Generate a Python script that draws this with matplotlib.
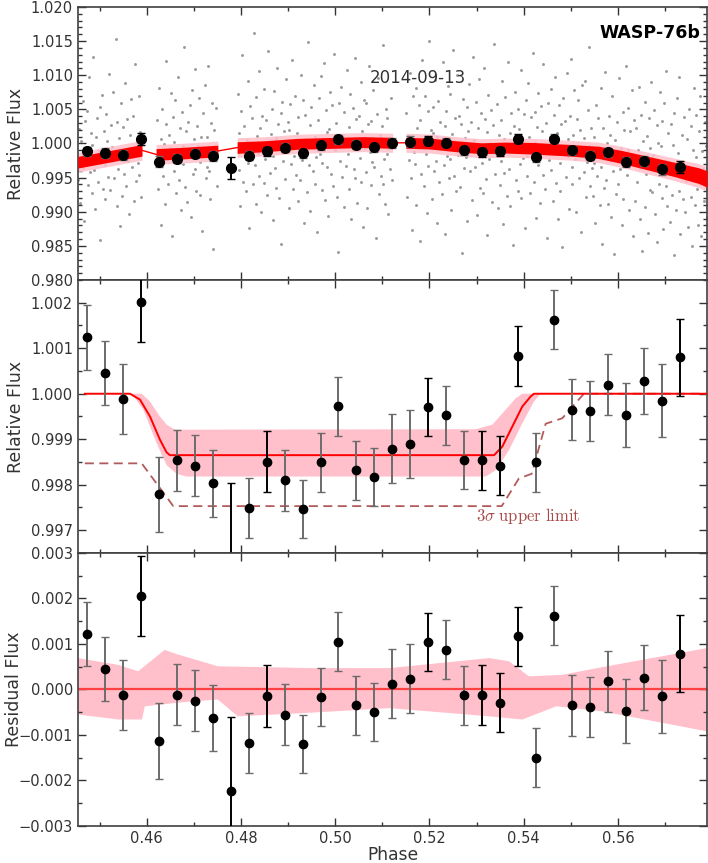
import numpy as np
import matplotlib
matplotlib.use("Agg")
import matplotlib.pyplot as plt
from matplotlib.ticker import MultipleLocator, FuncFormatter

#%% binned light curve
bin_phase = [0.44743, 0.45117, 0.45498, 0.45879, 0.46267, 0.46648, 0.47029, 0.47410,
             0.47784, 0.48165, 0.48546, 0.48927, 0.49308, 0.49689, 0.50070, 0.50444,
             0.50832, 0.51213, 0.51594, 0.51975, 0.52356, 0.52737, 0.53117, 0.53498,
             0.53886, 0.54267, 0.54648, 0.55029, 0.55410, 0.55790, 0.56171, 0.56552,
             0.56933, 0.57314]
bin_flux_raw = [0.99883, 0.99863, 0.99834, 1.00064, 0.99736, 0.99780, 0.99853, 0.99814,
                0.99643, 0.99819, 0.99883, 0.99936, 0.99858, 0.99971, 1.00064, 0.99980,
                0.99946, 1.00010, 1.00029, 1.00039, 1.00010, 0.99902, 0.99868, 0.99888,
                1.00068, 0.99800, 1.00068, 0.99902, 0.99819, 0.99868, 0.99731, 0.99746,
                0.99623, 0.99653]
bin_flux_det = [1.00124, 1.00046, 0.99988, 1.00202, 0.99779, 0.99854, 0.99842, 0.99803,
                0.99641, 0.99749, 0.99851, 0.99810, 0.99746, 0.99849, 0.99972, 0.99832,
                0.99817, 0.99879, 0.99890, 0.99971, 0.99953, 0.99854, 0.99854, 0.99842,
                1.00083, 0.99849, 1.00163, 0.99965, 0.99962, 1.00020, 0.99954, 1.00028,
                0.99985, 1.00080]
bin_resid = [0.00122, 0.00045, -0.00013, 0.00205, -0.00113, -0.00012, -0.00025, -0.00063,
             -0.00224, -0.00117, -0.00015, -0.00056, -0.00120, -0.00017, 0.00105, -0.00035,
             -0.00049, 0.00013, 0.00024, 0.00105, 0.00087, -0.00013, -0.00012, -0.00029,
             0.00117, -0.00150, 0.00162, -0.00035, -0.00038, 0.00018, -0.00047, 0.00026,
             -0.00015, 0.00079]
bin_err = [0.00071, 0.00071, 0.00077, 0.00088, 0.00083, 0.00067, 0.00067, 0.00073,
           0.00163, 0.00066, 0.00068, 0.00067, 0.00064, 0.00064, 0.00065, 0.00065,
           0.00064, 0.00076, 0.00075, 0.00064, 0.00065, 0.00064, 0.00065, 0.00065,
           0.00065, 0.00065, 0.00065, 0.00067, 0.00066, 0.00067, 0.00070, 0.00072,
           0.00080, 0.00085]

#%% unbinned points: phase in 1e-4, flux offset in ppt
raw_phase_e4 = [
    4455,4457,4458,4460,4462,4464,4465,4467,4469,4471,
    4473,4475,4476,4478,4480,4482,4483,4485,4487,4489,
    4491,4493,4494,4496,4498,4500,4501,4503,4505,4507,
    4509,4511,4512,4514,4516,4518,4519,4521,4523,4525,
    4527,4529,4530,4532,4534,4536,4537,4539,4541,4543,
    4545,4547,4548,4550,4552,4554,4555,4557,4559,4561,
    4563,4565,4566,4568,4570,4572,4573,4575,4577,4579,
    4581,4583,4584,4586,4588,
    4621,4623,4624,4626,4628,4630,4631,4633,4635,4637,
    4639,4641,4642,4644,4646,4648,4649,4651,4653,4655,
    4657,4659,4660,4662,4664,4666,4667,4669,4671,4673,
    4675,4677,4678,4680,4682,4684,4685,4687,4689,4691,
    4693,4695,4696,4698,4700,4702,4703,4705,4707,4709,
    4711,4713,4714,4716,4718,4720,4721,4723,4725,4727,
    4729,4731,4732,4734,4736,4738,4739,4741,4743,4745,
    4747,4749,
    4793,4795,4796,4798,4800,4802,4803,4805,4807,4809,
    4811,4813,4814,4816,4818,4820,4821,4823,4825,4827,
    4829,4831,4832,4834,4836,4838,4839,4841,4843,4845,
    4847,4849,4850,4852,4854,4856,4857,4859,4861,4863,
    4865,4867,4868,4870,4872,4874,4875,4877,4879,4881,
    4883,4885,4886,4888,4890,4892,4893,4895,4897,4899,
    4901,4903,4904,4906,4908,4910,4911,4913,4915,4917,
    4919,4921,4922,4924,4926,4928,4929,4931,4933,4935,
    4937,4939,4940,4942,4944,4946,4947,4949,4951,4953,
    4955,4957,4958,4960,4962,4964,4965,4967,4969,4971,
    4973,4975,4976,4978,4980,4982,4983,4985,4987,4989,
    4991,4993,4994,4996,4998,5000,5001,5003,5005,5007,
    5009,5011,5012,5014,5016,5018,5019,5021,5023,5025,
    5027,5029,5030,5032,5034,5036,5037,5039,5041,5043,
    5045,5047,5048,5050,5052,5054,5055,5057,5059,5061,
    5063,5065,5066,5068,5070,5072,5073,5075,5077,5079,
    5081,5083,5084,5086,5088,5090,5091,5093,5095,5097,
    5099,5101,5102,5104,5106,5108,5109,5111,5113,5115,
    5117,5119,5120,
    5151,5153,5154,5156,5158,5160,5161,5163,5165,5167,
    5169,5171,5172,5174,5176,5178,5179,5181,5183,5185,
    5187,5189,5190,5192,5194,5196,5197,5199,5201,5203,
    5205,5207,5208,5210,5212,5214,5215,5217,5219,5221,
    5223,5225,5226,5228,5230,5232,5233,5235,5237,5239,
    5241,5243,5244,5246,5248,5250,5251,5253,5255,5257,
    5259,5261,5262,5264,5266,5268,5269,5271,5273,5275,
    5277,5279,5280,5282,5284,5286,5287,5289,5291,5293,
    5295,5297,5298,5300,5302,5304,5305,5307,5309,5311,
    5313,5315,5316,5318,5320,5322,5323,5325,5327,5329,
    5331,5333,5334,5336,5338,5340,5341,5343,5345,5347,
    5349,5351,5352,5354,5356,5358,5359,5361,5363,5365,
    5367,5369,5370,5372,5374,5376,5377,5379,5381,5383,
    5385,5387,5388,5390,5392,5394,5395,5397,5399,5401,
    5403,5405,5406,5408,5410,5412,5413,5415,5417,5419,
    5421,5423,5424,5426,5428,5430,5431,5433,5435,5437,
    5439,5441,5442,5444,5446,5448,5449,5451,5453,5455,
    5457,5459,5460,5462,5464,5466,5467,5469,5471,5473,
    5475,5477,5478,5480,5482,5484,5485,5487,5489,5491,
    5493,5495,5496,5498,5500,5502,5503,5505,5507,5509,
    5511,5513,5514,5516,5518,5520,5521,5523,5525,5527,
    5529,5531,5532,5534,5536,5538,5539,5541,5543,5545,
    5547,5549,5550,5552,5554,5556,5557,5559,5561,5563,
    5565,5567,5568,5570,5572,5574,5575,5577,5579,5581,
    5583,5585,5586,5588,5590,5592,5593,5595,5597,5599,
    5601,5603,5604,5606,5608,5610,5611,5613,5615,5617,
    5619,5621,5622,5624,5626,5628,5629,5631,5633,5635,
    5637,5639,5640,5642,5644,5646,5647,5649,5651,5653,
    5655,5657,5658,5660,5662,5664,5665,5667,5669,5671,
    5673,5675,5676,5678,5680,5682,5683,5685,5687,5689,
    5691,5693,5694,5696,5698,5700,5701,5703,5705,5707,
    5709,5711,5712,5714,5716,5718,5719,5721,5723,5725,
    5727,5729,5730,5732,5734,5736,5737,5739,5741,5743,
    5745,5747,5748,5750,5752,5754,5755,5757,5759,5761,
    5763,5765,5766,5768,5770,5772,5773,5775,5777,5779,
    5781,5783,5784,5786,5788]
raw_flux_ppt = [
    -5.3, 2.1, -8.7, 0.4, -1.9, 6.2, -3.6, -11.4, 3.3, -0.8,
    4.7, -6.1, -2.4, 9.8, -4.2, 1.5, -7.3, -0.2, 12.6, -3.9,
    -9.6, 0.9, 3.8, -5.7, -1.1, -14.2, 5.4, -2.8, 7.1, -6.6,
    1.8, -3.2, -8.1, 4.3, 0.3, -4.9, 10.2, -1.6, -6.8, 2.7,
    -0.5, 7.6, -5.1, -2.1, 15.3, -9.2, 3.1, -3.7, 0.8, -12.1,
    5.9, -1.4, -7.7, 2.4, -4.4, 8.8, -0.9, -6.2, 3.6, -2.6,
    -10.3, 1.2, 6.5, -3.4, -0.6, 4.1, -8.4, 11.7, -5.5, 0.2,
    -2.9, 6.9, -4.6, 1.7, -7.9,
    3.4, -6.7, -1.8, 8.2, -3.3, -11.9, 0.6, 5.1, -4.8, -0.1,
    -8.9, 2.9, 12.1, -2.3, -5.9, 1.3, -0.7, 7.4, -13.6, 3.9,
    -4.1, 0.2, 6.3, -7.2, -2.6, 9.7, -1.2, -5.3, 2.2, -9.8,
    4.6, -3.0, -0.4, 14.1, -6.4, 1.9, -8.6, 3.2, -2.0, 5.7,
    -1.5, -10.7, 7.9, -4.5, 0.7, -3.8, 10.9, -6.9, 2.5, -0.3,
    6.6, -2.7, -7.5, 1.0, -12.8, 4.4, -1.0, 8.5, -5.0, -3.5,
    0.9, 11.3, -4.0, -8.2, 3.0, -0.8, 6.0, -15.4, 2.0, -2.2,
    5.2, -6.3,
    7.3, -3.9, 1.6, -9.1, 4.8, -0.6, 12.9, -5.6, 2.6, -1.7,
    -7.0, 0.5, 9.1, -2.9, -12.4, 5.5, -0.1, 3.7, -6.0, 16.2,
    -3.1, 6.8, -8.8, 1.1, -1.4, 10.6, -4.7, 2.3, -10.1, 4.0,
    0.0, -5.8, 8.0, -2.2, 3.5, -7.6, 13.5, -0.9, -4.3, 1.4,
    5.0, -11.2, -1.9, 7.7, -3.6, 0.8, -6.5, 11.0, 2.8, -8.0,
    -0.4, 4.5, -14.7, 6.1, -2.5, 1.9, -5.2, 9.4, -1.1, 3.1,
    -9.4, 2.0, 5.8, -3.0, 12.3, -6.7, 0.3, -1.8, 7.0, -4.6,
    1.5, -8.5, 3.9, -0.7, -5.4, 10.0, -2.4, 6.4, -11.7, 0.6,
    4.2, -1.3, -7.1, 14.8, -3.2, 2.7, -9.9, 5.3, -0.2, -4.0,
    8.6, -5.9, 1.0, -2.0, -13.0, 3.4, 6.7, -1.5, 9.9, -6.8,
    -2.8, 0.4, 11.8, -8.3, 4.9, -3.5, 1.7, -10.6, 2.1, 7.5,
    -4.4, 5.6, -0.5, -6.3, 13.1, -1.0, 3.0, -7.8, 0.9, -15.9,
    6.0, -2.6, 8.3, -4.9, 1.3, -9.3, 4.6, -0.3, -3.3, 10.8,
    -1.6, 2.4, -6.6, 7.2, -11.0, 0.1, 5.2, -3.8, 12.5, -5.0,
    3.6, -8.7, -0.8, 4.1, -2.1, 9.0, -5.7, 1.8, -12.3, 6.3,
    -0.6, 5.9, -4.2, -9.5, 2.9, 11.4, -1.2, -6.1, 3.3, -2.7,
    7.8, -3.4, 0.7, -13.8, 4.3, -0.9, 9.6, -7.4, 1.2, -4.8,
    2.5, -6.0, 14.4, -2.3, -8.9, 5.1, -1.5, 3.8, -10.4, 0.0,
    -3.7, 6.6, -5.3,
    4.4, -7.9, 1.1, -2.4, 10.3, -5.1, 0.6, -12.7, 6.9, -1.3,
    -3.0, 8.1, -9.0, 2.2, -0.2, 5.6, -14.3, 3.5, -4.5, 12.2,
    0.3, -6.2, 7.0, -1.6, -10.2, 4.7, -3.3, 15.0, -0.7, 2.0,
    -8.1, 1.6, 5.3, -4.0, 9.3, -2.5, -11.6, 0.9, 6.2, -5.6,
    3.1, -0.1, -7.4, 11.9, -3.1, 2.6, -13.2, 4.8, -1.9, 8.4,
    -5.0, 7.3, -2.2, -9.7, 1.4, 13.7, -0.6, -4.7, 3.7, -7.0,
    10.1, -1.7, 4.0, -6.4, -0.3, 2.8, -16.0, 6.5, -3.6, 0.8,
    -2.0, 5.4, -11.3, 1.9, 8.7, -4.1, -0.8, 3.2, -8.3, 12.7,
    0.5, -3.4, 6.1, -10.5, 2.3, -1.1, 9.5, -6.5, 4.5, -2.9,
    -7.3, 11.1, -0.4, 3.6, -5.2, -13.4, 1.7, 7.1, -2.3, 0.0,
    4.9, -8.6, 2.7, -1.4, 14.6, -4.4, -0.9, 5.8, -9.4, 1.3,
    -6.1, 3.4, -2.6, 9.2, -11.8, 0.7, -4.3, 6.8, -0.5, -7.7,
    12.0, -3.7, 1.5, -9.2, 4.4, -1.2, -14.9, 2.6, 7.6, -5.4,
    -0.9, 5.0, -6.9, 2.1, -3.0, 10.7, -8.0, 0.4, -2.1, 4.3,
    -12.4, 6.3, -1.9, -4.8, 8.9, 1.0, -7.2, 3.9, -0.3, 13.3,
    -5.7, 0.2, 4.6, -10.9, 2.4, -3.2, 7.4, -1.6, -8.7, 5.5,
    1.8, -4.6, 11.6, -0.7, -6.6, 3.0, -13.9, 6.0, -2.4, 0.9,
    -3.9, 8.0, -1.0, -8.5, 4.2, -0.1, 9.8, -5.8, 1.6, -11.1,
    5.7, -2.8, -7.0, 2.9, -15.1, 6.7, -0.6, 3.3, -4.9, 10.4,
    -1.8, 0.6, -9.6, 4.1, 12.4, -3.5, -6.0, 1.3, 7.9, -2.2,
    -10.0, 3.6, -0.8, 6.4, -5.1, 2.0, -12.9, 8.6, -1.4, -4.2,
    0.8, 9.1, -7.9, -2.7, 4.9, -0.4, 14.1, -6.2, 2.3, -3.6,
    -7.7, 1.0, -2.9, -11.6, 5.6, -4.8, 3.7, -0.5, -9.0, 8.2,
    -3.4, -14.8, 2.2, -6.5, 10.5, -1.8, -5.3, 0.1, -8.8, 4.0,
    1.3, -10.7, -2.5, 6.9, -4.1, -16.2, 0.5, -7.4, 3.1, -1.2,
    -6.0, 9.6, -3.8, -0.7, -12.0, 4.6, -8.2, 2.0, -2.0, 11.4,
    -4.6, -0.9, 5.2, -9.8, 1.8, -3.1, 7.8, -13.5, -1.6, 3.5,
    -8.5, 2.3, -5.6, -1.0, 8.3, -11.0, -3.6, 4.2, -15.7, 0.4,
    -2.3, 6.1, -9.3, -4.4, 1.1, -13.1, 3.8, -6.8, -0.6, 9.0,
    -7.1, -1.7, 4.9, -10.4, -3.0, 2.7, -14.4, 0.0, -5.9, 7.5,
    -0.4, -8.0, 3.3, -12.6, 5.9, -2.6, -6.3, 10.6, -9.1, 1.5,
    -4.0, -11.5, 2.8, -7.5, -0.2, -16.4, 4.5, -3.2, -9.7, 6.6,
    -1.4, -6.9, 9.7, -13.3, -2.8, 1.2, -8.1, -4.6, 3.9, -10.1,
    -5.5, 0.7, -12.2, 5.0, -3.9, -7.8, 2.5, -15.0, -0.9, 8.1,
    -9.0, -2.0, 4.2, -6.7, -11.9, 1.9, -4.3, 7.0, -13.6, -1.1,
    -3.8, -8.4, 3.2, -0.3, -10.8]

#%% full model in the top panel (systematics x transit)
top_model_phase = [0.4454, 0.4512, 0.4571, 0.4590, 0.4620, 0.4680, 0.4751, 0.4792,
                   0.4850, 0.4920, 0.5000, 0.5060, 0.5122, 0.5150, 0.5200, 0.5256,
                   0.5310, 0.5360, 0.5420, 0.5500, 0.5559, 0.5610, 0.5665, 0.5720,
                   0.5771, 0.5789]
top_model_flux = [0.99725, 0.99800, 0.99875, 0.99900, 0.99840, 0.99860, 0.99890, 0.99940,
                  0.99960, 0.99995, 1.00010, 1.00020, 1.00010, 1.00010, 1.00000, 0.99960,
                  0.99930, 0.99940, 0.99930, 0.99900, 0.99870, 0.99800, 0.99710, 0.99620,
                  0.99530, 0.99480]
top_model_half = [0.00085, 0.00085, 0.00085, 0.00085, 0.00085, 0.00085, 0.00085, 0.00085,
                  0.00080, 0.00080, 0.00080, 0.00080, 0.00080, 0.00080, 0.00080, 0.00080,
                  0.00080, 0.00080, 0.00085, 0.00085, 0.00090, 0.00095, 0.00100, 0.00105,
                  0.00115, 0.00120]
data_segments = [(0.4454, 0.4590), (0.4620, 0.4751), (0.4792, 0.5122), (0.5150, 0.5789)]

#%% transit model (middle panel)
transit_phase = [0.44688, 0.45647, 0.45858, 0.46070, 0.46281, 0.46423, 0.46493,
                 0.53372, 0.53547, 0.53759, 0.53971, 0.54148, 0.54218, 0.57890]
transit_flux = [1.00000, 1.00000, 0.99987, 0.99950, 0.99899, 0.99871, 0.99865,
                0.99865, 0.99884, 0.99928, 0.99972, 0.99994, 1.00000, 1.00000]
band_up_phase = [0.44688, 0.45894, 0.46070, 0.46281, 0.46423, 0.46599, 0.52984,
                 0.53334, 0.53619, 0.53831, 0.53971, 0.57890]
band_up_flux = [1.00000, 1.00000, 0.99983, 0.99950, 0.99932, 0.99921, 0.99922,
                0.99932, 0.99965, 0.99990, 1.00000, 1.00000]
band_lo_phase = [0.44688, 0.45683, 0.45929, 0.46212, 0.46423, 0.46635, 0.46847,
                 0.53196, 0.53408, 0.53689, 0.53971, 0.54218, 0.54360, 0.57890]
band_lo_flux = [1.00000, 1.00000, 0.99965, 0.99891, 0.99843, 0.99824, 0.99818,
                0.99818, 0.99832, 0.99876, 0.99935, 0.99983, 1.00000, 1.00000]
limit_phase = [0.44688, 0.45894, 0.46564, 0.53534, 0.53900, 0.54169, 0.54466,
               0.54818, 0.55277, 0.57890]
limit_flux = [0.99847, 0.99847, 0.99753, 0.99753, 0.99814, 0.99824, 0.99934,
              0.99946, 1.00000, 1.00000]

#%% residual envelope (bottom panel)
res_up_phase = [0.4454, 0.4540, 0.4582, 0.4638, 0.4666, 0.4751, 0.4948, 0.5115,
                0.5327, 0.5369, 0.5411, 0.5481, 0.5566, 0.5789]
res_up = [0.00069, 0.00054, 0.00040, 0.00087, 0.00077, 0.00051, 0.00047, 0.00047,
          0.00069, 0.00062, 0.00029, 0.00032, 0.00049, 0.00091]
res_lo_phase = [0.4454, 0.4540, 0.4590, 0.4596, 0.4666, 0.4751, 0.4793, 0.4948,
                0.5115, 0.5327, 0.5397, 0.5469, 0.5566, 0.5789]
res_lo = [-0.00055, -0.00066, -0.00066, -0.00037, -0.00029, -0.00022, -0.00059, -0.00051,
          -0.00041, -0.00059, -0.00066, -0.00037, -0.00048, -0.00092]

dark_bins = [3, 8, 10, 19, 22, 23, 24, 33]   # errorbars drawn darker
PINK = '#ffc0cb'
TXT = '0.2'

#%% figure
fig = plt.figure(figsize=(7.08, 8.63), dpi=100)
gs = fig.add_gridspec(3, 1, left=0.110, right=0.9986, top=0.9919, bottom=0.0429, hspace=0)
ax1 = fig.add_subplot(gs[0])
ax2 = fig.add_subplot(gs[1], sharex=ax1)
ax3 = fig.add_subplot(gs[2], sharex=ax1)

fmt3 = FuncFormatter(lambda v, p: ("%.3f" % v).replace('-', '\u2212'))


def style(ax, ymin, ymax, ymaj, ymin_step):
    ax.set_xlim(0.4454, 0.5789)
    ax.set_ylim(ymin, ymax)
    ax.xaxis.set_major_locator(MultipleLocator(0.02))
    ax.xaxis.set_minor_locator(MultipleLocator(0.01))
    ax.yaxis.set_major_locator(MultipleLocator(ymaj))
    ax.yaxis.set_minor_locator(MultipleLocator(ymin_step))
    ax.yaxis.set_major_formatter(fmt3)
    ax.tick_params(which='both', direction='in', top=True, right=True,
                   colors=TXT, labelsize=10.5, width=1.0)
    ax.tick_params(which='major', length=5.5)
    ax.tick_params(which='minor', length=3)
    for s in ax.spines.values():
        s.set_color('0.25')
        s.set_linewidth(1.2)


def draw_bins(ax, y, ms):
    for i in range(len(bin_phase)):
        ec = 'k' if i in dark_bins else '0.42'
        ax.errorbar(bin_phase[i], y[i], yerr=bin_err[i], fmt='o', color='k',
                    ms=ms, ecolor=ec, elinewidth=1.4, capsize=2.6, capthick=1.0,
                    zorder=6)


# top panel
n = min(len(raw_phase_e4), len(raw_flux_ppt))
rp = np.array(raw_phase_e4[:n]) / 1e4
rf = 1.0 + np.array(raw_flux_ppt[:n]) / 1e3
ax1.plot(rp, rf, 'o', ms=2.1, mew=0, color='0.6', zorder=1)

tp = np.array(top_model_phase)
tf = np.array(top_model_flux)
th = np.array(top_model_half)
for lo, hi in data_segments:
    m = (tp >= lo - 1e-9) & (tp <= hi + 1e-9)
    ax1.fill_between(tp[m], tf[m] - th[m] - 0.0006, tf[m] + th[m] + 0.0006,
                     color=PINK, alpha=0.85, lw=0, zorder=2)
    ax1.fill_between(tp[m], tf[m] - th[m], tf[m] + th[m], color='red', lw=0, zorder=3)
ax1.plot(tp, tf, color='red', lw=1.0, zorder=3)
draw_bins(ax1, bin_flux_raw, 7)
ax1.text(0.989, 0.904, 'WASP-76b', transform=ax1.transAxes, ha='right', va='center',
         fontsize=12.5, fontweight='bold', color='k')
ax1.text(0.5405, 0.739, '2014-09-13', transform=ax1.transAxes, ha='center', va='center',
         fontsize=12, color=TXT)
ax1.set_ylabel('Relative Flux', fontsize=12.5, color=TXT)
ax1.yaxis.set_label_coords(-0.084, 0.5)
style(ax1, 0.980, 1.020, 0.005, 0.001)
ax1.tick_params(labelbottom=False)

# middle panel
ax2.fill(np.concatenate([band_up_phase, band_lo_phase[::-1]]),
         np.concatenate([band_up_flux, band_lo_flux[::-1]]), color=PINK, lw=0, zorder=1)
ax2.plot(transit_phase, transit_flux, color='red', lw=1.4, zorder=3)
ax2.plot(limit_phase, limit_flux, '--', color='#b35a5a', lw=1.3, dashes=(5, 3), zorder=2)
ax2.text(0.5409, 0.99731, r'$3\sigma\ \mathrm{upper\ limit}$', math_fontfamily='cm',
         ha='center', va='center', fontsize=12, color='#a84848')
draw_bins(ax2, bin_flux_det, 6)
ax2.set_ylabel('Relative Flux', fontsize=12.5, color=TXT)
ax2.yaxis.set_label_coords(-0.084, 0.5)
style(ax2, 0.9965, 1.0025, 0.001, 0.0005)
ax2.tick_params(labelbottom=False)

# bottom panel
ax3.fill(np.concatenate([res_up_phase, res_lo_phase[::-1]]),
         np.concatenate([res_up, res_lo[::-1]]), color=PINK, lw=0, zorder=1)
ax3.axhline(0.0, color='#ff4040', lw=1.6, zorder=2)
draw_bins(ax3, bin_resid, 6)
ax3.set_ylabel('Residual Flux', fontsize=12.5, color=TXT)
ax3.yaxis.set_label_coords(-0.088, 0.5)
ax3.set_xlabel('Phase', fontsize=12.3, color=TXT, labelpad=0)
style(ax3, -0.003, 0.003, 0.001, 0.0005)
ax3.xaxis.set_major_formatter(FuncFormatter(lambda v, p: "%.2f" % v))

fig.savefig('out.png', dpi=100)
